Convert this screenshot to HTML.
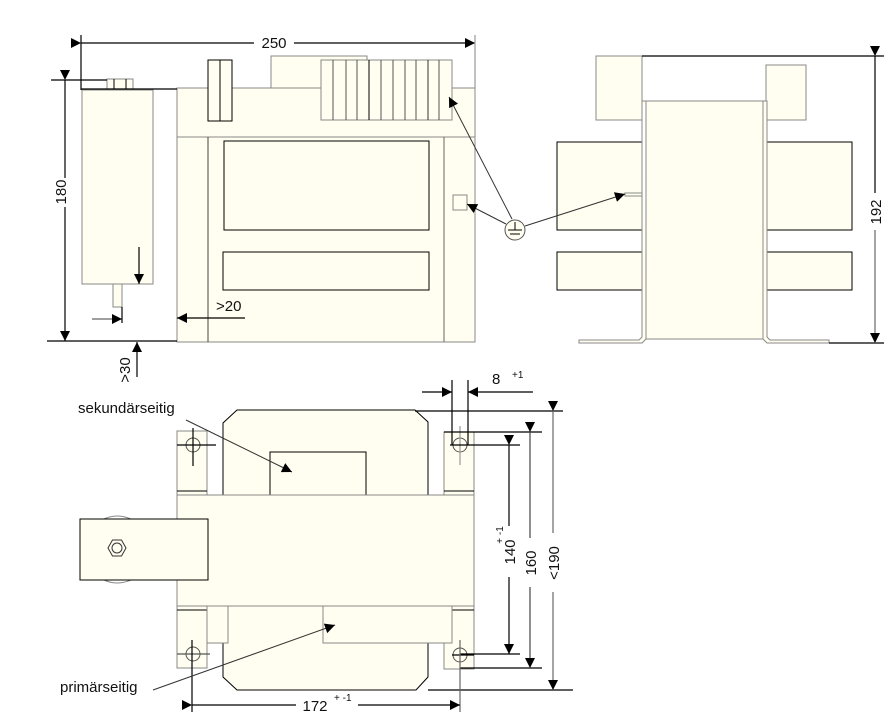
<!DOCTYPE html>
<html><head><meta charset="utf-8"><style>
html,body{margin:0;padding:0;background:#fff}
svg{display:block}
text{font-family:"Liberation Sans",sans-serif;fill:#111}
</style></head><body>
<svg width="894" height="723" viewBox="0 0 894 723" xmlns="http://www.w3.org/2000/svg">
<defs>
<marker id="a" viewBox="0 0 10 10" refX="10" refY="5" markerWidth="15" markerHeight="10" markerUnits="userSpaceOnUse" orient="auto"><path d="M0,0 L10,5 L0,10 z" fill="#000"/></marker>
</defs>
<g fill="#fffef0" stroke="#888" stroke-width="1">
<!-- FRONT VIEW -->
<rect x="82" y="90" width="71" height="194"/>
<rect x="113" y="284" width="9" height="23"/>
<rect x="107" y="79" width="26" height="10"/>
<line x1="114" y1="79" x2="114" y2="89" stroke="#000"/>
<line x1="126" y1="79" x2="126" y2="89" stroke="#000"/>
<rect x="271" y="56" width="96" height="32"/>
<rect x="177" y="88" width="298" height="254"/>
<line x1="177" y1="137" x2="475" y2="137"/>
<line x1="208" y1="137" x2="208" y2="342" stroke="#444"/>
<line x1="444" y1="137" x2="444" y2="342" stroke="#666"/>
<rect x="208" y="60" width="24" height="61" stroke="#000"/>
<line x1="220" y1="60" x2="220" y2="121" stroke="#000"/>
<rect x="321" y="60" width="131" height="60"/>
<g stroke="#555"><line x1="333" y1="60" x2="333" y2="120"/><line x1="346" y1="60" x2="346" y2="120"/><line x1="357" y1="60" x2="357" y2="120"/><line x1="369" y1="60" x2="369" y2="120" stroke="#000"/><line x1="381" y1="60" x2="381" y2="120"/><line x1="393" y1="60" x2="393" y2="120"/><line x1="405" y1="60" x2="405" y2="120"/><line x1="416" y1="60" x2="416" y2="120"/><line x1="428" y1="60" x2="428" y2="120" stroke="#333"/><line x1="439" y1="60" x2="439" y2="120"/></g>
<rect x="224" y="141" width="205" height="89" stroke="#000"/>
<rect x="223" y="252" width="206" height="38" stroke="#000"/>
<rect x="453" y="195" width="14" height="15"/>
<!-- SIDE VIEW -->
<rect x="596" y="56" width="46" height="64"/>
<rect x="766" y="65" width="40" height="55"/>
<rect x="557" y="142" width="85" height="88" stroke="#000"/>
<rect x="557" y="252" width="85" height="38" stroke="#000"/>
<rect x="767" y="142" width="85" height="88" stroke="#000"/>
<rect x="767" y="252" width="85" height="38" stroke="#000"/>
<path d="M642,101 L646,101 L646,339 L763,339 L763,101 L767,101 L767,337 L770,340 L829,340 L829,343 L767,343 L763,339 M642,101 L642,337 L639,340 L579,340 L579,343 L642,343 L646,339"/>
<rect x="646" y="101" width="117" height="238"/>
<rect x="625" y="193" width="17" height="3"/>
<!-- BOTTOM VIEW -->
<path d="M237,410 L415,410 L428,422 L428,495 L223,495 L223,423 Z" stroke="#000"/>
<rect x="270" y="452" width="96" height="43" stroke="#000"/>
<rect x="177" y="431" width="30" height="64"/>
<rect x="444" y="432" width="30" height="63"/>
<line x1="177" y1="491" x2="207" y2="491" stroke="#000"/>
<line x1="444" y1="491" x2="474" y2="491" stroke="#000"/>
<path d="M223,606 L428,606 L428,677 L416,690 L237,690 L223,677 Z" stroke="#000"/>
<rect x="177" y="606" width="30" height="62"/>
<rect x="444" y="606" width="30" height="63"/>
<rect x="177" y="495" width="297" height="111"/>
<line x1="177" y1="610" x2="207" y2="610" stroke="#000"/>
<line x1="444" y1="610" x2="474" y2="610" stroke="#000"/>
<rect x="207" y="606" width="21" height="37"/>
<rect x="323" y="606" width="129" height="37"/>
<path d="M102,520 Q117,512 133,520 M102,579 Q117,587 133,579" fill="none"/>
<rect x="80" y="519" width="128" height="61" stroke="#000"/>
<polygon points="108,548 112.5,540 121.5,540 126,548 121.5,556 112.5,556" fill="none" stroke="#333"/>
<circle cx="117" cy="548" r="5" fill="none" stroke="#333"/>
</g>
<g fill="none" stroke="#000" stroke-width="1.2">
<circle cx="193" cy="445" r="7" stroke="#555" stroke-width="1"/><circle cx="460" cy="445" r="7" stroke="#555" stroke-width="1"/>
<circle cx="193" cy="654" r="7" stroke="#555" stroke-width="1"/><circle cx="460" cy="655" r="7" stroke="#555" stroke-width="1"/>
<line x1="177" y1="445" x2="216" y2="445"/><line x1="193" y1="428" x2="193" y2="466"/>
<line x1="460" y1="426" x2="460" y2="465" stroke="#999"/>
<line x1="177" y1="654" x2="210" y2="654" stroke="#555"/>
<line x1="452" y1="655" x2="474" y2="655"/>
<line x1="81" y1="43" x2="254" y2="43" marker-start="url(#a)"/>
<line x1="294" y1="43" x2="475" y2="43" marker-end="url(#a)"/>
<line x1="81" y1="35" x2="81" y2="90"/>
<line x1="475" y1="35" x2="475" y2="88" stroke="#999"/>
<line x1="81" y1="89" x2="177" y2="89"/>
<line x1="51" y1="80" x2="107" y2="80"/>
<line x1="47" y1="341" x2="177" y2="341"/>
<line x1="65" y1="80" x2="65" y2="178" marker-start="url(#a)"/>
<line x1="65" y1="207" x2="65" y2="341" marker-end="url(#a)"/>
<line x1="139" y1="247" x2="139" y2="284" marker-end="url(#a)"/>
<line x1="92" y1="319" x2="122" y2="319" marker-end="url(#a)" stroke="#666"/>
<line x1="122" y1="307" x2="122" y2="323"/>
<line x1="245" y1="318" x2="177" y2="318" marker-end="url(#a)"/>
<line x1="137" y1="377" x2="137" y2="342" marker-end="url(#a)"/>
<line x1="642" y1="56" x2="884" y2="56"/>
<line x1="829" y1="343" x2="884" y2="343"/>
<line x1="875" y1="56" x2="875" y2="193" marker-start="url(#a)"/>
<line x1="875" y1="230" x2="875" y2="343" marker-end="url(#a)" stroke="#666"/>
<line x1="512" y1="219" x2="449" y2="97" stroke="#333" stroke-width="1" marker-end="url(#a)"/>
<line x1="506" y1="224" x2="467" y2="204" stroke="#333" stroke-width="1" marker-end="url(#a)"/>
<line x1="525" y1="226" x2="625" y2="194" stroke="#333" stroke-width="1" marker-end="url(#a)"/>
<line x1="452" y1="380" x2="452" y2="445"/><line x1="468" y1="380" x2="468" y2="445"/>
<line x1="422" y1="392" x2="452" y2="392" marker-end="url(#a)"/>
<line x1="533" y1="392" x2="468" y2="392" marker-end="url(#a)"/>
<line x1="415" y1="411" x2="563" y2="411"/>
<line x1="444" y1="432" x2="542" y2="432"/>
<line x1="450" y1="445" x2="520" y2="445"/>
<line x1="428" y1="690" x2="573" y2="690"/>
<line x1="460" y1="668" x2="542" y2="668"/>
<line x1="460" y1="654" x2="520" y2="654"/>
<line x1="553" y1="411" x2="553" y2="533" marker-start="url(#a)" stroke="#666"/>
<line x1="553" y1="592" x2="553" y2="690" marker-end="url(#a)" stroke="#666"/>
<line x1="530" y1="432" x2="530" y2="538" marker-start="url(#a)" stroke="#444"/>
<line x1="530" y1="587" x2="530" y2="668" marker-end="url(#a)" stroke="#444"/>
<line x1="509" y1="445" x2="509" y2="526" marker-start="url(#a)"/>
<line x1="509" y1="577" x2="509" y2="654" marker-end="url(#a)"/>
<line x1="192" y1="640" x2="192" y2="712"/><line x1="460" y1="640" x2="460" y2="712" stroke="#666"/>
<line x1="192" y1="705" x2="296" y2="705" marker-start="url(#a)"/>
<line x1="358" y1="705" x2="460" y2="705" marker-end="url(#a)"/>
<line x1="186" y1="420" x2="292" y2="472" stroke="#333" stroke-width="1" marker-end="url(#a)"/>
<line x1="153" y1="690" x2="335" y2="625" stroke="#333" stroke-width="1" marker-end="url(#a)"/>
</g>
<circle cx="515" cy="230" r="10" fill="#fffef0" stroke="#555"/>
<g stroke="#000"><line x1="515" y1="222" x2="515" y2="230"/><line x1="508" y1="230" x2="522" y2="230"/><line x1="510" y1="234" x2="520" y2="234"/></g>
<text x="274" y="48" font-size="15" text-anchor="middle">250</text>
<text transform="translate(66,192) rotate(-90)" font-size="15" text-anchor="middle">180</text>
<text x="216" y="311" font-size="15">&gt;20</text>
<text transform="translate(130,370) rotate(-90)" font-size="15" text-anchor="middle">&gt;30</text>
<text transform="translate(881,212) rotate(-90)" font-size="15" text-anchor="middle">192</text>
<text x="492" y="384" font-size="15">8</text>
<text x="512" y="378" font-size="10">+1</text>
<text x="78" y="413" font-size="15">sekundärseitig</text>
<text x="60" y="692" font-size="15">primärseitig</text>
<text x="315" y="711" font-size="15" text-anchor="middle">172</text>
<text x="334" y="701" font-size="10">+ -1</text>
<text transform="translate(515,552) rotate(-90)" font-size="15" text-anchor="middle">140</text>
<text transform="translate(503,535) rotate(-90)" font-size="10" text-anchor="middle">+ -1</text>
<text transform="translate(536,563) rotate(-90)" font-size="15" text-anchor="middle">160</text>
<text transform="translate(559,563) rotate(-90)" font-size="15" text-anchor="middle">&lt;190</text>
</svg>
</body></html>
